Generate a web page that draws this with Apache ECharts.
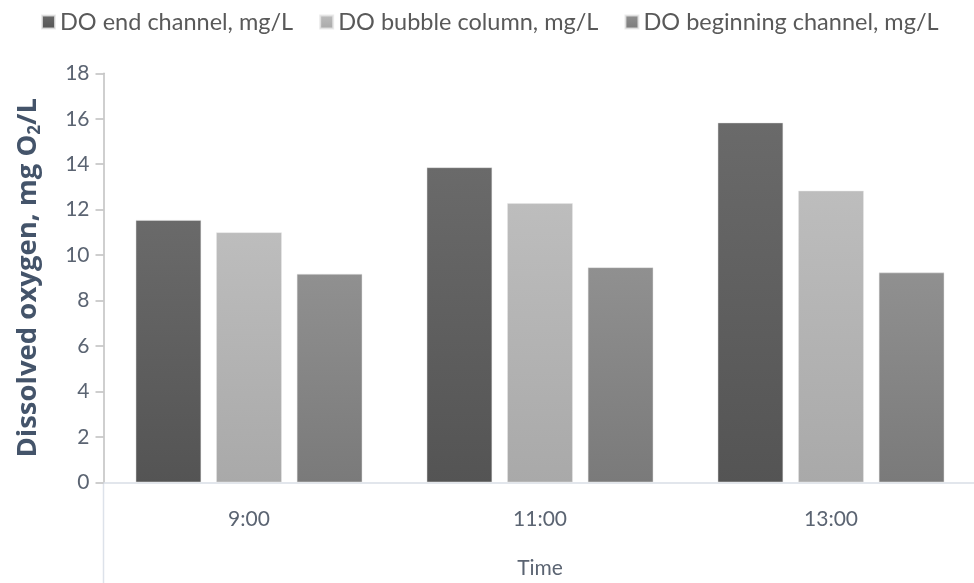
<!DOCTYPE html>
<html>
<head>
<meta charset="utf-8">
<script src="https://cdn.jsdelivr.net/npm/echarts@6/dist/echarts.min.js"></script>
<style>
  html, body { margin: 0; padding: 0; background: #fff; }
  #chart { width: 974px; height: 583px; }
</style>
</head>
<body>
<div id="chart"></div>
<script>
// Sampling times
const times = ['9:00', '11:00', '13:00'];

// Dissolved oxygen, mg O2/L
const doEndChannel = [11.54, 13.86, 15.83];
const doBubbleColumn = [11.00, 12.28, 12.83];
const doBeginningChannel = [9.17, 9.46, 9.23];

const seriesNames = [
  'DO end channel, mg/L',
  'DO bubble column, mg/L',
  'DO beginning channel, mg/L'
];

const yTicks = { min: 0, max: 18, interval: 2 };

const FONT = 'Lato, "Open Sans", sans-serif';
const LABEL_COLOR = '#5b6472';

function shade(top, bottom) {
  return new echarts.graphic.LinearGradient(0, 0, 0, 1, [
    { offset: 0, color: top },
    { offset: 1, color: bottom }
  ]);
}

const barStyle = (top, bottom) => ({
  color: shade(top, bottom),
  borderColor: 'rgba(230,230,230,0.8)',
  borderWidth: 0.6
});

const chart = echarts.init(document.getElementById('chart'), null, { renderer: 'canvas' });

chart.setOption({
  animation: false,
  backgroundColor: '#ffffff',
  legend: {
    top: 5,
    left: 36,
    icon: 'rect',
    itemWidth: 13,
    itemHeight: 13,
    itemGap: 26,
    textStyle: { fontFamily: FONT, fontSize: 23.5, color: '#595959' },
    data: seriesNames
  },
  grid: { left: 103.5, top: 73.3, width: 873, height: 409, outerBoundsMode: 'none', containLabel: false },
  xAxis: {
    type: 'category',
    data: times,
    name: 'Time',
    nameLocation: 'middle',
    nameGap: 75,
    nameTextStyle: { fontFamily: FONT, fontSize: 21, color: LABEL_COLOR },
    axisLine: { lineStyle: { color: '#d9dee6', width: 1.5 } },
    axisTick: { show: false },
    axisLabel: { fontFamily: FONT, fontSize: 21, color: LABEL_COLOR, margin: 26 }
  },
  yAxis: {
    type: 'value',
    min: yTicks.min,
    max: yTicks.max,
    interval: yTicks.interval,
    name: '{a|Dissolved oxygen, mg O}{s|2}{a|/L}',
    nameLocation: 'middle',
    nameRotate: 90,
    nameGap: 60,
    nameTextStyle: {
      rich: {
        a: { fontFamily: '"Open Sans", Lato, sans-serif', fontWeight: 'bold', fontSize: 27.5, color: '#44546a' },
        s: { fontFamily: '"Open Sans", Lato, sans-serif', fontWeight: 'bold', fontSize: 17, color: '#44546a', padding: [14, 0, 0, 0] }
      }
    },
    axisLine: { show: true, lineStyle: { color: '#bfbfbf', width: 1.5 } },
    axisTick: { show: true, length: 8, lineStyle: { color: '#bfbfbf', width: 1.5 } },
    splitLine: { show: false },
    axisLabel: { fontFamily: FONT, fontSize: 21, color: LABEL_COLOR, margin: 14 }
  },
  series: [
    {
      name: seriesNames[0], type: 'bar', data: doEndChannel,
      barWidth: 65.5, barGap: '23%',
      itemStyle: barStyle('#6a6a6a', '#545454')
    },
    {
      name: seriesNames[1], type: 'bar', data: doBubbleColumn,
      barWidth: 65.5, barGap: '23%',
      itemStyle: barStyle('#bdbdbd', '#a9a9a9')
    },
    {
      name: seriesNames[2], type: 'bar', data: doBeginningChannel,
      barWidth: 65.5, barGap: '23%',
      itemStyle: barStyle('#909090', '#7a7a7a')
    }
  ],
  graphic: [
    {
      type: 'line',
      shape: { x1: 103.5, y1: 482.3, x2: 103.5, y2: 583 },
      style: { stroke: '#dde2ea', lineWidth: 1.5 }
    }
  ]
});
</script>
</body>
</html>
